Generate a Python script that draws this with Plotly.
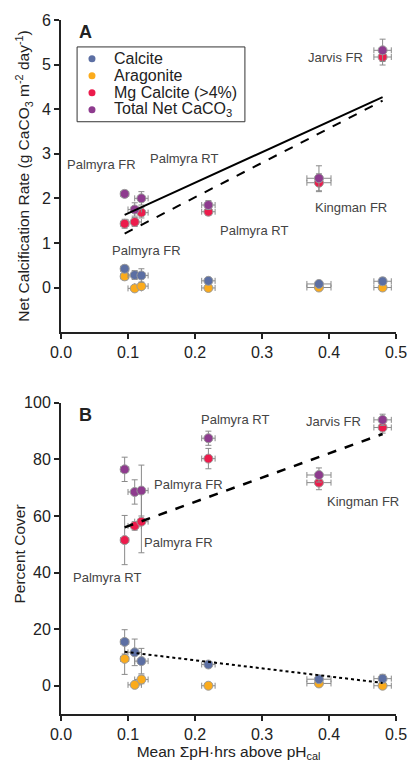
import plotly.graph_objects as go

x_vals = [0.095, 0.11, 0.12, 0.22, 0.385, 0.48]
x_err = [0.006, 0.01, 0.01, 0.01, 0.018, 0.013]

# Panel A: net calcification rate
a_calcite = [0.42, 0.28, 0.27, 0.15, 0.08, 0.14]
a_calcite_err = [0.08, 0.1, 0.15, 0.06, 0.05, 0.08]
a_aragonite = [0.25, -0.02, 0.03, -0.01, 0.0, 0.0]
a_aragonite_err = [0.08, 0.05, 0.05, 0.03, 0.03, 0.03]
a_mg = [1.43, 1.47, 1.68, 1.70, 2.35, 5.17]
a_mg_err = [0.1, 0.1, 0.12, 0.08, 0.2, 0.18]
a_total = [2.10, 1.75, 2.00, 1.85, 2.45, 5.32]
a_total_err = [0.08, 0.15, 0.15, 0.1, 0.28, 0.25]
fit_x = [0.095, 0.48]
a_fit_total = [1.63, 4.27]
a_fit_mg = [1.21, 4.19]

# Panel B: percent cover
b_calcite = [15.5, 11.8, 8.7, 7.5, 2.3, 2.5]
b_calcite_err = [4.3, 4.7, 4.5, 1.0, 1.0, 1.5]
b_aragonite = [9.5, 0.3, 2.2, 0.0, 0.8, 0.0]
b_aragonite_err = [5.5, 0.8, 1.5, 0.5, 0.8, 0.5]
b_mg = [51.5, 56.5, 58.0, 80.3, 71.8, 91.3]
b_mg_err = [8.7, 1.5, 11.0, 3.6, 2.5, 2.0]
b_total = [76.5, 68.5, 69.0, 87.5, 74.5, 94.0]
b_total_err = [4.3, 4.3, 9.0, 2.5, 2.5, 2.0]
b_fit_total = [56.0, 89.0]
b_fit_carb = [12.0, 1.0]

names = ["Calcite", "Aragonite", "Mg Calcite (>4%)", "Total Net CaCO<sub>3</sub>"]
colors = ["#5c6fa3", "#fbab1c", "#ec1c4c", "#8e3b8e"]

fig = go.Figure()
ERR_COL = "#8a8a8a"

def add_series(y, yerr, name, color, xa, ya):
    fig.add_trace(go.Scatter(
        x=x_vals, y=y, mode="markers", name=name, showlegend=False,
        marker=dict(size=9, color=color, line=dict(color="#9a9a9a", width=1)),
        error_x=dict(type="data", array=x_err, color=ERR_COL, thickness=1, width=3),
        error_y=dict(type="data", array=yerr, color=ERR_COL, thickness=1, width=3),
        xaxis=xa, yaxis=ya))

# Panel A
add_series(a_aragonite, a_aragonite_err, names[1], colors[1], "x", "y")
add_series(a_calcite, a_calcite_err, names[0], colors[0], "x", "y")
add_series(a_mg, a_mg_err, names[2], colors[2], "x", "y")
add_series(a_total, a_total_err, names[3], colors[3], "x", "y")
fig.add_trace(go.Scatter(x=fit_x, y=a_fit_total, mode="lines", showlegend=False,
                         line=dict(color="black", width=2), xaxis="x", yaxis="y"))
fig.add_trace(go.Scatter(x=fit_x, y=a_fit_mg, mode="lines", showlegend=False,
                         line=dict(color="black", width=2, dash="dash"), xaxis="x", yaxis="y"))

# Panel B
add_series(b_aragonite, b_aragonite_err, names[1], colors[1], "x2", "y2")
add_series(b_calcite, b_calcite_err, names[0], colors[0], "x2", "y2")
add_series(b_mg, b_mg_err, names[2], colors[2], "x2", "y2")
add_series(b_total, b_total_err, names[3], colors[3], "x2", "y2")
fig.add_trace(go.Scatter(x=fit_x, y=b_fit_total, mode="lines", showlegend=False,
                         line=dict(color="black", width=2.5, dash="dash"), xaxis="x2", yaxis="y2"))
fig.add_trace(go.Scatter(x=fit_x, y=b_fit_carb, mode="lines", showlegend=False,
                         line=dict(color="black", width=2, dash="dot"), xaxis="x2", yaxis="y2"))

FONT = "Arial, Liberation Sans, sans-serif"
axis_common = dict(showline=True, linecolor="#222", linewidth=2, ticks="outside",
                   ticklen=5, tickwidth=1.5, tickcolor="#222", showgrid=False, zeroline=False,
                   tickfont=dict(size=16, color="#222", family=FONT))

xt = [0, 0.1, 0.2, 0.3, 0.4, 0.5]
xl = ["0.0", "0.1", "0.2", "0.3", "0.4", "0.5"]
fig.update_layout(
    width=419, height=773,
    margin=dict(l=61, r=23, t=18, b=59),
    paper_bgcolor="white", plot_bgcolor="white",
    font=dict(family=FONT, color="#222"),
    showlegend=False,
    xaxis=dict(domain=[0, 1], range=[0, 0.5], tickvals=xt, ticktext=xl, anchor="y", **axis_common),
    yaxis=dict(domain=[0.5503, 1.0], range=[-1, 6], tickvals=[0, 1, 2, 3, 4, 5, 6], anchor="x",
               title=dict(text="Net Calcification Rate (g CaCO<sub>3</sub> m<sup>-2</sup> day<sup>-1</sup>)",
                          font=dict(size=15.5, color="#222"), standoff=8),
               **axis_common),
    xaxis2=dict(domain=[0, 1], range=[0, 0.5], tickvals=xt, ticktext=xl, anchor="y2",
                title=dict(text="Mean ΣpH·hrs above pH<sub>cal</sub>", font=dict(size=15.5, color="#222"), standoff=4),
                **axis_common),
    yaxis2=dict(domain=[0, 0.4483], range=[-10, 100], tickvals=[0, 20, 40, 60, 80, 100], anchor="x2",
                **axis_common),
)

# Panel B y-axis title
fig.add_annotation(x=-0.125, y=0.23, xref="paper", yref="paper", text="Percent Cover", textangle=-90,
                   showarrow=False, xanchor="center", yanchor="middle",
                   font=dict(size=15.5, color="#222", family=FONT))

# Legend box (panel A)
fig.add_shape(type="rect", xref="paper", yref="paper", x0=0.048, x1=0.549, y0=0.8534, y1=0.9612,
              line=dict(color="#333", width=1), fillcolor="white", layer="below")
leg_y = [0.9440, 0.9195, 0.8951, 0.8707]
for nm, col, yy in zip(names, colors, leg_y):
    fig.add_shape(type="circle", xref="paper", yref="paper", xsizemode="pixel", ysizemode="pixel",
                  xanchor=0.0925, yanchor=yy, x0=-3.5, x1=3.5, y0=-3.5, y1=3.5,
                  fillcolor=col, line=dict(width=0))
    fig.add_annotation(x=0.1522, y=yy, xref="paper", yref="paper", text=nm, showarrow=False,
                       xanchor="left", yanchor="middle", font=dict(size=16, color="#222", family=FONT))

ann_font = dict(size=13, color="#444", family=FONT)
labels_a = [
    ("Jarvis FR", 0.41, 5.15), ("Palmyra FR", 0.06, 2.75), ("Palmyra RT", 0.183, 2.9),
    ("Kingman FR", 0.433, 1.8), ("Palmyra RT", 0.288, 1.28), ("Palmyra FR", 0.128, 0.82),
]
for t, xx, yy in labels_a:
    fig.add_annotation(x=xx, y=yy, xref="x", yref="y", text=t, showarrow=False, font=ann_font)
labels_b = [
    ("Palmyra RT", 0.26, 94), ("Jarvis FR", 0.406, 93.5), ("Palmyra FR", 0.19, 71.3),
    ("Kingman FR", 0.45, 65), ("Palmyra FR", 0.175, 50.5), ("Palmyra RT", 0.069, 38.3),
]
for t, xx, yy in labels_b:
    fig.add_annotation(x=xx, y=yy, xref="x2", yref="y2", text=t, showarrow=False, font=ann_font)

fig.add_annotation(x=0.036, y=5.72, xref="x", yref="y", text="<b>A</b>", showarrow=False,
                   font=dict(size=18, color="#222", family=FONT))
fig.add_annotation(x=0.036, y=95.7, xref="x2", yref="y2", text="<b>B</b>", showarrow=False,
                   font=dict(size=18, color="#222", family=FONT))

fig.write_html("out.html")
